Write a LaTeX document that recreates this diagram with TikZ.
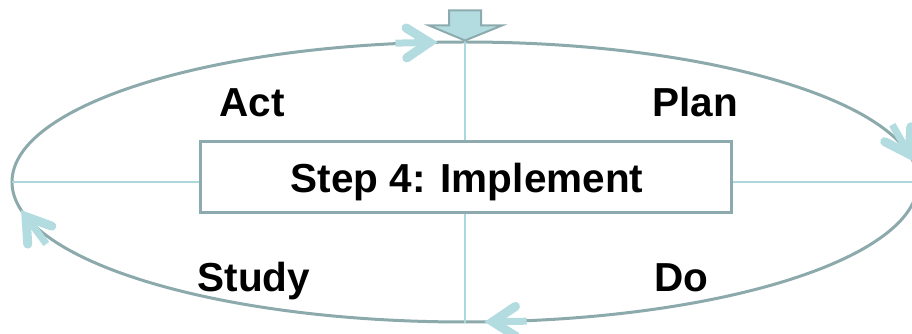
\documentclass[tikz,border=0pt]{standalone}
\usepackage{fontspec}
\setmainfont{Liberation Sans}
\usetikzlibrary{shapes.geometric}

\definecolor{ringcol}{HTML}{8CA9AC}
\definecolor{tipcol}{HTML}{B3DCE0}
\definecolor{axiscol}{HTML}{ABD7DD}
\definecolor{boxcol}{HTML}{8DABAE}

\tikzset{
  phase/.style={font=\bfseries\fontsize{40.5}{48}\selectfont, anchor=base, inner sep=0pt},
  ring/.style={ellipse, draw=ringcol, line width=3pt, minimum width=906pt, minimum height=280pt, inner sep=0pt},
  axis/.style={draw=axiscol, line width=1.6pt},
  stepbox/.style={draw=boxcol, fill=white, line width=3pt, minimum width=531pt, minimum height=71pt, inner sep=0pt},
  tipshaft/.style={draw=tipcol, line width=7pt},
  tiphead/.style={draw=tipcol, line width=9pt, line cap=round, line join=miter},
  entry/.style={fill=tipcol, draw=boxcol, line width=2pt, line join=miter}
}

% chevron arrow riding on the ring at parameter angle #1 (clockwise travel)
\newcommand\flowtip[1]{%
  \begin{scope}[shift={({465+453*cos(#1)},{152+140*sin(#1)})},
                rotate={atan2(-140*cos(#1),453*sin(#1))}]
    \draw[tipshaft] (-38,0) -- (-4,0);
    \draw[tiphead] (-27,15) -- (-4,0) -- (-27,-15);
  \end{scope}}

\begin{document}
\begin{tikzpicture}[x=1pt,y=1pt]
  \useasboundingbox (0,0) rectangle (912,334);

  % the cycle
  \node[ring] (cyc) at (465,152) {};

  % cross axes
  \coordinate (hl) at (12,152);
  \coordinate (hr) at (912,152);
  \draw[axis] (hl) -- (hr);
  \draw[axis] (cyc.north) -- (cyc.south);

  % direction arrows
  \flowtip{94}
  \flowtip{10}
  \flowtip{-87}
  \flowtip{193}

  % entry arrow at the top
  \path[entry] (cyc.north) -- ++(37,15) -- ++(-21,0) -- ++(0,15) -- ++(-32,0)
    -- ++(0,-15) -- ++(-20,0) -- cycle;

  % central step box
  \node[stepbox] (box) at (465.5,156.5) {};
  \node[phase] (step) at (467,141) {Step 4: Implement};

  % phase labels
  \node[phase] (act) at (252,217) {Act};
  \node[phase] (plan) at (695,217) {Plan};
  \node[phase] (study) at (254,42) {Study};
  \node[phase] (do) at (681,42) {Do};
\end{tikzpicture}
\end{document}
